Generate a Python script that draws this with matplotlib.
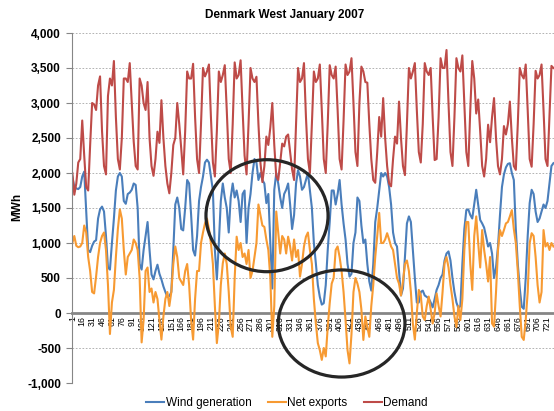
import matplotlib
matplotlib.use("Agg")
import matplotlib.pyplot as plt
from matplotlib.patches import Ellipse
from matplotlib.ticker import FuncFormatter
import numpy as np

# hourly series, every third hour (hours 1, 4, 7, ...)
HOURS = np.arange(1, 731, 3)

WIND = [
    1950, 1800, 1780, 1770, 1800, 1950, 2020, 1450,
    900, 870, 960, 1020, 1040, 1350, 1480, 1520,
    1450, 1100, 650, 620, 1000, 1350, 1750, 1950,
    2000, 1950, 1600, 1560, 1700, 1720, 1760, 1850,
    1830, 1500, 700, 620, 900, 1100, 1300, 900,
    550, 480, 600, 690, 560, 480, 380, 300,
    230, 240, 300, 900, 1550, 1650, 1500, 1200,
    1180, 1500, 1900, 1850, 1400, 900, 820, 1100,
    1600, 1800, 1950, 2150, 2190, 2150, 1950, 1750,
    900, 480, 1000, 1600, 1850, 1650, 1500, 1150,
    1650, 1850, 1650, 1750, 1600, 1300, 1700, 1750,
    1000, 1500, 1700, 2000, 2200, 2150, 1900, 2000,
    1900, 1850, 1570, 1700, 1000, 350, 1760, 2000,
    1850, 1650, 1500, 1700, 1760, 1850, 1550, 1200,
    1400, 1850, 2040, 1950, 1760, 1800, 1900, 2000,
    1750, 1500, 1000, 710, 400, 230, 120, 140,
    400, 900, 1300, 1750, 1750, 1550, 1700, 1900,
    1550, 1280, 1050, 700, 520, 560, 1000, 1150,
    1650, 1600, 1250, 1000, 1050, 700, 450, 320,
    700, 1300, 1500, 1750, 2000, 1950, 2000, 1950,
    1800, 1550, 1150, 1000, 950, 600, 250, 350,
    800, 1280, 1380, 1300, 900, 500, 150, 150,
    300, 320, 250, 230, 210, 150, 80, 200,
    330, 400, 500, 550, 750, 850, 880, 750,
    500, 300, 150, 70, 100, 700, 1200, 1470,
    1480, 1400, 1350, 1550, 1760, 1550, 1330, 1280,
    1220, 1090, 950, 1000, 850, 500, 650, 950,
    1400, 1800, 1980, 2080, 2130, 2140, 2000, 1900,
    1200, 700, 350, 90, 60, 500, 1100, 1570,
    1760, 1700, 1450, 1300, 1350, 1450, 1550, 1500,
    1600, 1850, 2100, 2140,
]

NET_EXPORTS = [
    1000, 1100, 960, 940, 950, 1000, 1250, 1150,
    800, 600, 300, 280, 520, 800, 1000, 1100,
    1150, 900, 400, -300, 150, 330, 800, 1200,
    1480, 1350, 900, 550, 800, 850, 900, 1050,
    1000, 900, 500, -420, -100, 600, 650, 300,
    350, 150, 300, 200, -100, -380, -50, 200,
    300, 100, 300, 700, 950, 800, 500, 450,
    400, 600, 700, 400, -100, -380, 200, 600,
    600, 1000, 1150, 1280, 1350, 1200, 1000, 700,
    100, -430, -150, 400, 710, 850, 700, 300,
    -195, -340, 500, 1090, 900, 1000, 800, 850,
    700, 900, 500, 600, 800, 1000, 1550, 1400,
    1250, 1230, 1050, 900, 500, -340, 100, 1450,
    1150, 850, 1100, 1050, 850, 1090, 950, 750,
    1050, 800, 900, 520, 700, 950, 1090, 1150,
    900, 700, 200, -150, -430, -530, -670, -500,
    -620, -200, 140, 420, 500, 900, 950, 800,
    600, 300, -100, -530, -720, -300, 300, 500,
    420, 300, 50, -385, -50, -200, -340, 100,
    400, 800, 1100, 1430, 1000, 1000, 1050, 1140,
    1050, 950, 900, 700, 500, 420, 250, 450,
    700, 750, 600, 300, -150, -380, 0, 330,
    250, -50, -100, 100, 235, 50, -150, 0,
    280, 100, -50, 300, 710, 800, 650, 400,
    200, -50, -200, 100, -100, 200, 900, 1300,
    1300, 700, 330, 1100, 1380, 1000, 650, 1185,
    900, 700, 450, 800, -150, -195, 300, 900,
    1185, 1100, 1185, 1280, 1300, 1380, 1470, 1200,
    1000, 600, 100, -340, -385, -100, 300, 1000,
    1140, 1100, 800, 400, 150, 300, 1185, 950,
    1000, 900, 1000, 950,
]

DEMAND = [
    2000, 1690, 1850, 2150, 2200, 2750, 2250, 1800,
    1750, 2400, 3000, 2980, 2900, 3250, 3380, 2600,
    2100, 1980, 3100, 3350, 3250, 3600, 2800, 2200,
    2050, 2500, 3350, 3350, 3300, 3570, 3000, 2450,
    2100, 2050, 3350, 3250, 3000, 2900, 3300, 2500,
    2100, 1960, 2200, 2590, 2430, 3040, 2500, 2100,
    1850, 1710, 2000, 2400, 2500, 3000, 2700, 2350,
    1980, 2600, 3450, 3350, 3350, 3560, 2800, 2200,
    2000, 2700, 3500, 3380, 3450, 3550, 2800, 2150,
    1950, 2600, 3450, 3300, 3400, 3540, 2900, 2200,
    2000, 2700, 3580, 3350, 3400, 3610, 2900, 2250,
    1980, 2700, 3500, 3350, 3300, 3375, 2700, 2150,
    1870, 2100, 2520, 2400, 2650, 3000, 2400, 1950,
    1900, 2150, 2420, 2380, 2520, 2550, 2300, 2050,
    1900, 2700, 3500, 3300, 3350, 3570, 2800, 2200,
    2000, 2700, 3450, 3300, 3350, 3550, 2900, 2200,
    2000, 2700, 3540, 3400, 3350, 3520, 2900, 2200,
    2050, 2750, 3550, 3400, 3450, 3640, 3000, 2300,
    2100, 3000, 3520, 3450, 3300, 3290, 2700, 2200,
    1900, 1860, 2300, 2800, 2520, 3070, 2500, 2100,
    1850, 1810, 2200, 2520, 2420, 3020, 2500, 2100,
    1970, 2700, 3500, 3350, 3450, 3570, 2900, 2300,
    2150, 2700, 3570, 3450, 3400, 3500, 2800, 2185,
    2200, 2800, 3640, 3500, 3500, 3757, 3000, 2300,
    2100, 2800, 3640, 3500, 3450, 3680, 3000, 2300,
    2100, 2900, 3600, 3350, 2850, 3050, 2600, 2100,
    1950, 2200, 2690, 2440, 2800, 3070, 2500, 2100,
    1980, 2200, 2670, 2550, 2700, 3020, 2500, 2100,
    2045, 2700, 3500, 3400, 3350, 3550, 2900, 2200,
    2090, 2700, 3460, 3350, 3400, 3550, 2900, 2200,
    2100, 2800, 3530, 3500,
]

TICK_HOURS = [
    1, 16, 31, 46, 61, 76, 91, 106, 121, 136, 151, 166, 181, 196, 211, 226,
    241, 256, 271, 286, 301, 316, 331, 346, 361, 376, 391, 406, 421, 436,
    451, 466, 481, 496, 511, 526, 541, 556, 571, 586, 601, 616, 631, 646,
    661, 676, 691, 706, 721,
]

SERIES = [
    ("Wind generation", WIND, "#4A7EBB"),
    ("Net exports", NET_EXPORTS, "#F79A32"),
    ("Demand", DEMAND, "#BE4B48"),
]

# (centre hour, centre MWh, width in hours, height in MWh)
CIRCLES = [(296, 1390, 185, 1600), (409, -150, 192, 1530)]

plt.rcParams["font.family"] = ["Liberation Sans", "DejaVu Sans"]

fig = plt.figure(figsize=(5.54, 4.11), dpi=100)
# the plot area runs past the right edge of the picture (the source was cropped)
ax = fig.add_axes([72 / 554, 28 / 411, 491 / 554, 350 / 411])

for name, values, color in SERIES:
    ax.plot(HOURS, values, color=color, linewidth=1.5, label=name,
            solid_joinstyle="round")

for cx, cy, w, h in CIRCLES:
    ax.add_patch(Ellipse((cx, cy), w, h, fill=False, edgecolor="#262626",
                         linewidth=2.3, zorder=5, clip_on=False))

ax.set_xlim(0.5, 744.5)
ax.set_ylim(-1000, 4000)
ax.set_yticks(np.arange(-1000, 4001, 500))
ax.yaxis.set_major_formatter(FuncFormatter(lambda v, _: f"{v:,.0f}"))
ax.grid(axis="y", color="#a6a6a6", linestyle=(0, (2, 2)), linewidth=0.6)
ax.set_axisbelow(True)

ax.spines["top"].set_visible(False)
ax.spines["right"].set_visible(False)
ax.spines["left"].set_color("#868686")
ax.spines["left"].set_linewidth(0.8)
ax.spines["bottom"].set_position(("data", 0))
ax.spines["bottom"].set_color("#868686")
ax.spines["bottom"].set_linewidth(2.0)
ax.spines["bottom"].set_zorder(1)

ax.set_xticks(TICK_HOURS)
ax.set_xticklabels([str(t) for t in TICK_HOURS], rotation=90, fontsize=6.3,
                   va="top", ha="center")
ax.tick_params(axis="x", length=0, pad=2)
ax.tick_params(axis="y", length=4, color="#868686", pad=4, labelsize=8.5)
for lab in ax.get_yticklabels():
    lab.set_fontweight("bold")

ax.set_ylabel("MWh", fontsize=8.5, fontweight="bold")
ax.yaxis.set_label_coords(-0.100, 0.503)
fig.text(0.513, 0.963, "Denmark West January 2007", ha="center", va="center",
         fontsize=8.5, fontweight="bold")

fig.legend(loc="center", bbox_to_anchor=(0.518, 0.02), ncol=3, frameon=False,
           fontsize=8.5, handlelength=1.5, handletextpad=0.15,
           columnspacing=1.4)

fig.savefig("out.png", dpi=100)
